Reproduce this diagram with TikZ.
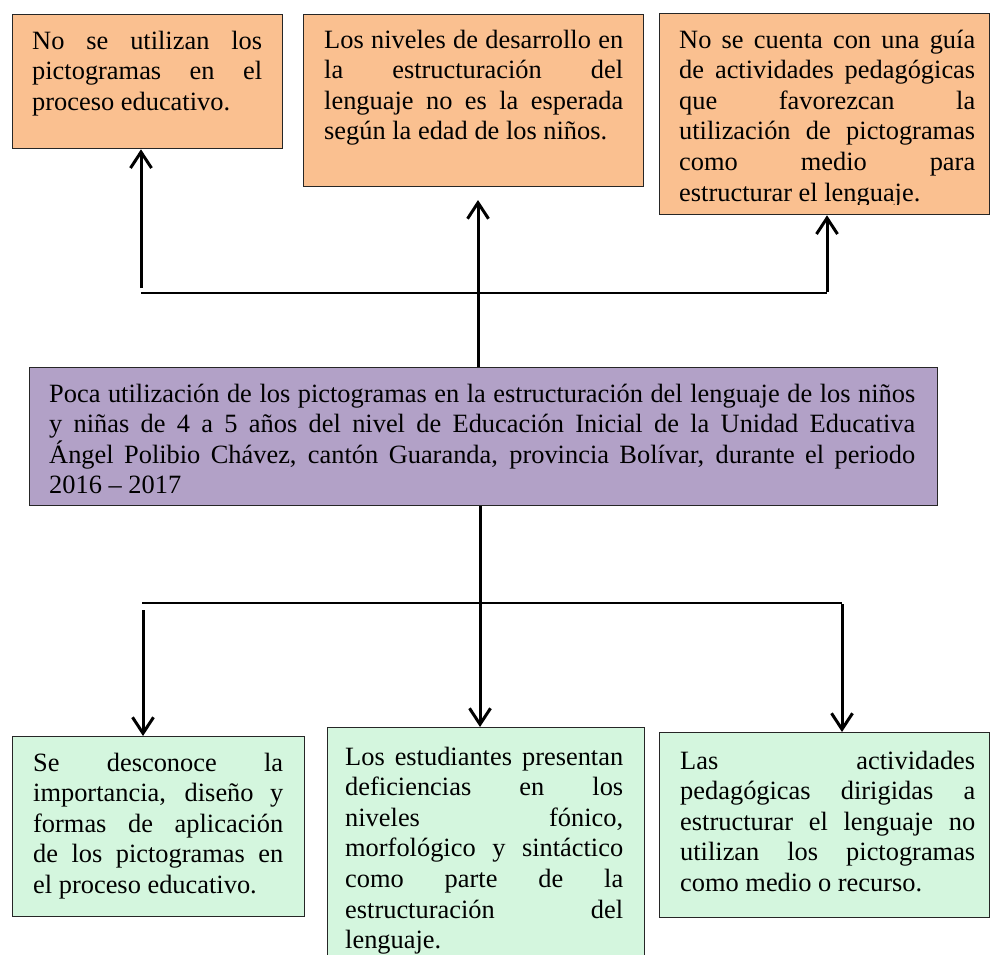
\documentclass[tikz,border=0pt]{standalone}
\usepackage{fontspec}
\setmainfont{Liberation Serif}
\usetikzlibrary{arrows.meta}
\definecolor{peach}{HTML}{FAC090}
\definecolor{lilac}{HTML}{B2A1C7}
\definecolor{mint}{HTML}{D4F6DE}
\tikzset{
  boxbg/.style={draw=black!85, line width=1.3pt, inner sep=0pt, anchor=north west},
  txt/.style={inner sep=0pt, anchor=base west, align=justify,
    font=\fontsize{26.4}{30.6}\selectfont,
    execute at begin node={\tolerance=10000\hbadness=10000\hyphenpenalty=10000\exhyphenpenalty=10000}},
  conn/.style={line width=2pt},
  arr/.style={line width=3pt, -{Straight Barb[length=16pt,width=21pt]}},
}
\begin{document}
\begin{tikzpicture}[x=1pt,y=-1pt]
\clip (0,0) rectangle (990,954);
\fill[white] (0,0) rectangle (990,954);
% top boxes
\node[boxbg, fill=peach, minimum width=270pt, minimum height=134pt] (b1) at (12,14) {};
\node[txt, text width=230pt] (t1) at (32,49) {No se utilizan los\linebreak pictogramas en el\linebreak proceso educativo.};
\node[boxbg, fill=peach, minimum width=340pt, minimum height=172pt] (b2) at (303,14) {};
\node[txt, text width=299pt] (t2) at (324,48) {Los niveles de desarrollo en\linebreak la estructuración del\linebreak lenguaje no es la esperada\linebreak según la edad de los niños.};
\node[boxbg, fill=peach, minimum width=330pt, minimum height=201pt] (b3) at (659,13) {};
\begin{scope}
\clip (659,13) rectangle (989,204);
\node[txt, text width=296pt] (t3) at (679,48) {No se cuenta con una guía\linebreak de actividades pedagógicas\linebreak que favorezcan la\linebreak utilización de pictogramas\linebreak como medio para\linebreak estructurar el lenguaje.};
\end{scope}
% central box
\node[boxbg, fill=lilac, minimum width=908pt, minimum height=138pt] (pur) at (29,367) {};
\node[txt, text width=866pt] (tp) at (49,402) {Poca utilización de los pictogramas en la estructuración del lenguaje de los niños\linebreak y niñas de 4 a 5 años del nivel de Educación Inicial de la Unidad Educativa\linebreak Ángel Polibio Chávez, cantón Guaranda, provincia Bolívar, durante el periodo\linebreak 2016 – 2017};
% bottom boxes
\node[boxbg, fill=mint, minimum width=292pt, minimum height=180pt] (bL) at (12,736) {};
\node[txt, text width=250pt] (tL) at (33,771) {Se desconoce la\linebreak importancia, diseño y\linebreak formas de aplicación\linebreak de los pictogramas en\linebreak el proceso educativo.};
\node[boxbg, fill=mint, minimum width=317pt, minimum height=243pt] (bM) at (327,727) {};
\node[txt, text width=278pt] (tM) at (345,765) {Los estudiantes presentan\linebreak deficiencias en los\linebreak niveles fónico,\linebreak morfológico y sintáctico\linebreak como parte de la\linebreak estructuración del\linebreak lenguaje.};
\node[boxbg, fill=mint, minimum width=330pt, minimum height=185pt] (bR) at (659,732) {};
\node[txt, text width=295pt] (tR) at (680,769) {Las actividades\linebreak pedagógicas dirigidas a\linebreak estructurar el lenguaje no\linebreak utilizan los pictogramas\linebreak como medio o recurso.};
% top connectors
\coordinate (j1) at (141,288);
\coordinate (h1) at (141,293);
\coordinate (h3) at (827,293);
\coordinate (m1) at (478,200);
\draw[conn] (h1) -- (h3);
\draw[arr] (j1) -- (j1 |- b1.south);
\draw[arr] ([yshift=1pt]h3) -- (h3 |- b3.south);
\draw[arr] (pur.north -| m1) -- (m1);
% bottom connectors
\coordinate (d0) at (480,603);
\coordinate (hl) at (142,603);
\coordinate (hr) at (842,603);
\coordinate (dl) at (143,610);
\draw[conn] (hl) -- (hr);
\draw[arr] (pur.south -| d0) -- (d0 |- bM.north);
\draw[arr] (dl) -- (dl |- bL.north);
\draw[arr] ([yshift=-1pt]hr) -- (hr |- bR.north);
\end{tikzpicture}
\end{document}
